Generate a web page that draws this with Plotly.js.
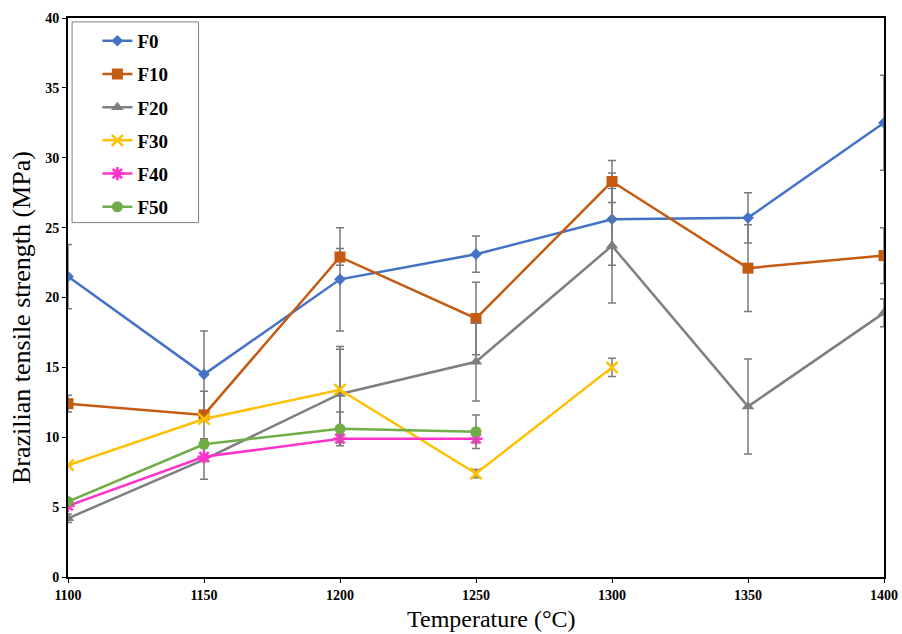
<!DOCTYPE html>
<html>
<head>
<meta charset="utf-8">
<script src="https://cdn.plot.ly/plotly-3.0.1.min.js"></script>
<style>html,body{margin:0;padding:0;background:#fff;}#chart{width:902px;height:634px;}</style>
</head>
<body>
<div id="chart"></div>
<script>
const temps = [1100, 1150, 1200, 1250, 1300, 1350, 1400];
const seriesNames = ["F0", "F10", "F20", "F30", "F40", "F50"];
const F0 = [21.5, 14.5, 21.3, 23.1, 25.6, 25.7, 32.5];
const F0err = [2.3, 3.1, 3.7, 1.3, 3.3, 1.8, 3.4];
const F10 = [12.4, 11.6, 22.9, 18.5, 28.3, 22.1, 23.0];
const F10err = [0.6, 1.7, 0.6, 2.6, 1.5, 3.1, 2.0];
const F20 = [4.2, 8.4, 13.1, 15.4, 23.7, 12.2, 18.9];
const F20err = [0.3, 1.4, 3.4, 2.8, 4.1, 3.4, 1.0];
const F30 = [8.0, 11.3, 13.4, 7.4, 15.0];
const F30err = [0, 0, 2.9, 0.3, 0.65];
const F40 = [5.1, 8.6, 9.9, 9.9];
const F40err = [0, 0, 0.3, 0.3];
const F50 = [5.4, 9.5, 10.6, 10.4];
const F50err = [0, 0, 1.2, 1.2];
const xTitle = "Temperature (°C)";
const yTitle = "Brazilian tensile strength (MPa)";

const values = [F0, F10, F20, F30, F40, F50];
const errs = [F0err, F10err, F20err, F30err, F40err, F50err];
const colors = ["#4472C4", "#C55A11", "#7F7F7F", "#FFC000", "#FF33CC", "#70AD47"];
const symbols = ["diamond", "square", "triangle-up", "x-thin-open", "asterisk-open", "circle"];
const sizes = [9, 11, 11, 11, 11, 11];

const traces = values.map((v, i) => ({
  x: temps.slice(0, v.length),
  y: v,
  name: seriesNames[i],
  legendgroup: seriesNames[i],
  type: "scatter",
  mode: "lines+markers",
  line: {color: colors[i], width: 2.5},
  marker: {
    symbol: symbols[i], size: sizes[i], color: colors[i],
    line: {color: colors[i], width: (symbols[i].indexOf("open") >= 0) ? 2.5 : 0}
  },
  error_y: {type: "data", array: errs[i], visible: true, color: "#7a7a7a", thickness: 1.5, width: 4}
}));

const layout = {
  width: 902, height: 634,
  margin: {l: 68, r: 18, t: 18, b: 57},
  paper_bgcolor: "#ffffff",
  plot_bgcolor: "#ffffff",
  showlegend: true,
  legend: {
    x: 0.036, y: 0.993, xanchor: "left", yanchor: "top",
    borderwidth: 0, bgcolor: "rgba(0,0,0,0)",
    font: {family: "Liberation Serif", size: 19, color: "#000", weight: "bold"},
    tracegroupgap: 5.5,
    itemwidth: 30
  },
  shapes: [{
    type: "rect", xref: "paper", yref: "paper",
    x0: 0.005, x1: 0.160, y0: 0.634, y1: 0.993,
    line: {color: "#808080", width: 1}, fillcolor: "rgba(0,0,0,0)", layer: "below"
  }],
  annotations: [
    {text: xTitle, xref: "paper", yref: "paper", x: (491 - 68) / 816, y: -(619 - 577) / 559,
     xanchor: "center", yanchor: "middle", showarrow: false,
     font: {family: "Liberation Serif", size: 24, color: "#000"}},
    {text: yTitle, xref: "paper", yref: "paper", x: -(68 - 21) / 816, y: (577 - 318) / 559,
     xanchor: "center", yanchor: "middle", showarrow: false, textangle: -90,
     font: {family: "Liberation Serif", size: 26, color: "#000"}}
  ],
  xaxis: {
    range: [1100, 1400], dtick: 50, tick0: 1100,
    showgrid: false, zeroline: false,
    showline: true, linecolor: "#000", linewidth: 2, mirror: true,
    ticks: "outside", ticklen: 4, tickcolor: "#000",
    tickfont: {family: "Liberation Serif", size: 14, color: "#000", weight: "bold"}
  },
  yaxis: {
    range: [0, 40], dtick: 5,
    showgrid: false, zeroline: false,
    showline: true, linecolor: "#000", linewidth: 2, mirror: true,
    ticks: "outside", ticklen: 4, tickcolor: "#000",
    tickfont: {family: "Liberation Serif", size: 14, color: "#000", weight: "bold"}
  }
};

Plotly.newPlot("chart", traces, layout, {staticPlot: true, displayModeBar: false});
</script>
</body>
</html>
